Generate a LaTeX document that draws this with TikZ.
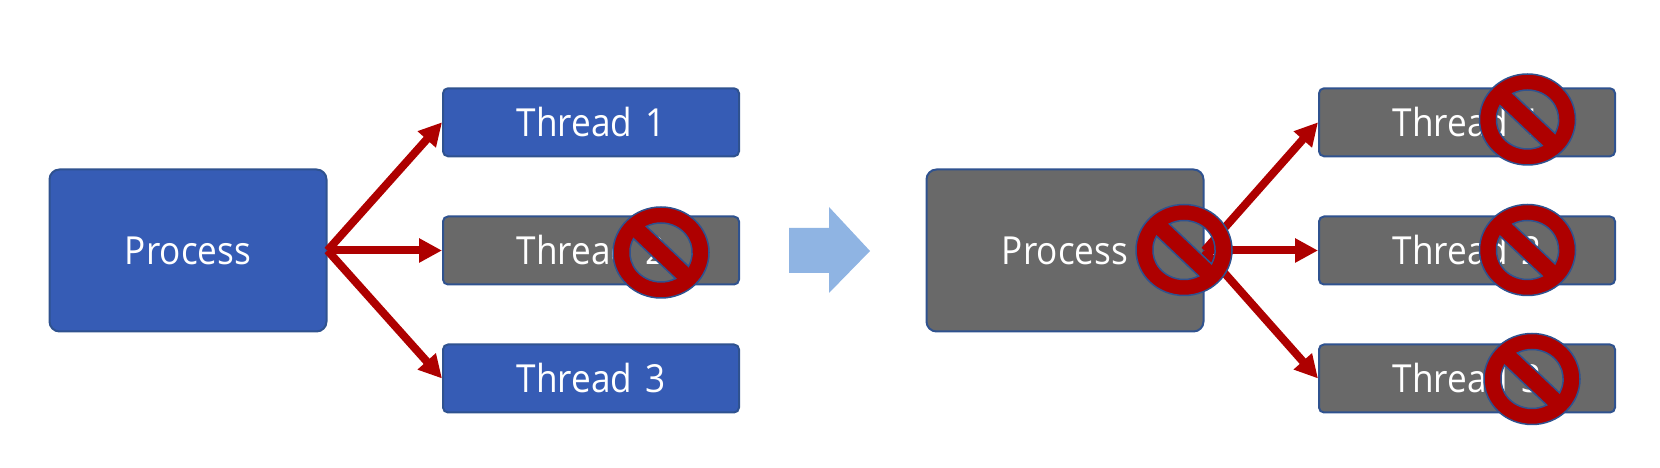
\documentclass[tikz,border=0pt]{standalone}
\usepackage{fontspec}
\setmainfont{Open Sans}[FakeStretch=.91]
\usepackage{xcolor}
\usetikzlibrary{arrows.meta}
\definecolor{boxblue}{HTML}{365CB5}
\definecolor{boxgray}{HTML}{696969}
\definecolor{boxline}{HTML}{2F528F}
\definecolor{signred}{HTML}{AE0000}
\definecolor{bigarrow}{HTML}{8FB4E3}
\newcommand{\threadname}[1]{Thread\hspace{.13cm}#1}
\tikzset{procbox/.style={draw=boxline, line width=.2mm, rounded corners=.1cm, minimum width=2.77cm, minimum height=1.62cm, text=white, font=\fontsize{11}{13}\selectfont},
 threadbox/.style={draw=boxline, line width=.2mm, rounded corners=.05cm, minimum width=2.96cm, minimum height=.68cm, text=white, font=\fontsize{11}{13}\selectfont},
 link/.style={draw=signred, line width=.08cm, -{Triangle[length=.23cm, width=.23cm]}},
 nosign/.pic={
   \draw[boxline, line width=.15mm, fill=signred, even odd rule, xscale=1.055]
     (0,0) circle (.455)
     (-28:.295) arc (-28:118:.295) -- cycle
     (152:.295) arc (152:298:.295) -- cycle;
 },
 }

\begin{document}
\begin{tikzpicture}
        \useasboundingbox (0,0) rectangle (16.6,4.68);

        \node[procbox, fill=boxblue] (procA) at (1.88, 2.175) {Process};
        \node[threadbox, fill=boxblue] (threadA1) at (5.91, 3.457) {\threadname{1}};
        \node[threadbox, fill=boxgray] (threadA2) at (5.91, 2.175) {\threadname{2}};
        \node[threadbox, fill=boxblue] (threadA3) at (5.91, .895) {\threadname{3}};

        \node[procbox, fill=boxgray] (procB) at (10.65, 2.175) {Process};
        \foreach \i/\y in {1/3.457, 2/2.175, 3/.895} {
            \node[threadbox, fill=boxgray] (threadB\i) at (14.67, \y) {\threadname{\i}};
        }

        \foreach \p in {A, B} {
            \foreach \i in {1, 2, 3} {
                \draw[link] (proc\p.east) -- (thread\p\i.west);
            }
        }

        \fill[bigarrow] (7.89, 2.4) -- (8.29, 2.4) -- (8.29, 2.61) -- (8.7, 2.17) -- (8.29, 1.75) -- (8.29, 1.95) -- (7.89, 1.95) -- cycle;

        \foreach \x/\y in {6.61/2.155, 11.84/2.18, 15.275/3.485, 15.275/2.18, 15.32/.89} {
            \pic at (\x, \y) {nosign};
        }
    \end{tikzpicture}
\end{document}
